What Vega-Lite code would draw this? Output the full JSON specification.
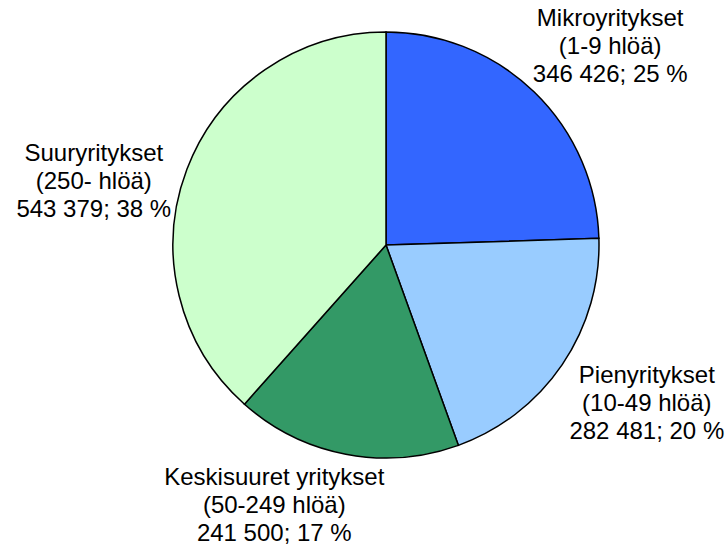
{
  "$schema": "https://vega.github.io/schema/vega-lite/v6.json",
  "autosize": "none",
  "width": 428,
  "height": 428,
  "padding": {"left": 172, "top": 31, "right": 128, "bottom": 87},
  "background": "white",
  "view": {"stroke": null},
  "data": {"values": [
    {"order": 1, "name": "Mikroyritykset", "value": 346426, "label": "Mikroyritykset\n(1-9 hlöä)\n346 426; 25 %"},
    {"order": 2, "name": "Pienyritykset", "value": 282481, "label": "Pienyritykset\n(10-49 hlöä)\n282 481; 20 %"},
    {"order": 3, "name": "Keskisuuret yritykset", "value": 241500, "label": "Keskisuuret yritykset\n(50-249 hlöä)\n241 500; 17 %"},
    {"order": 4, "name": "Suuryritykset", "value": 543379, "label": "Suuryritykset\n(250- hlöä)\n543 379; 38 %"}
  ]},
  "encoding": {
    "theta": {"field": "value", "type": "quantitative", "stack": true},
    "order": {"field": "order", "type": "quantitative"}
  },
  "layer": [
    {
      "mark": {"type": "arc", "radius": 213, "stroke": "black", "strokeWidth": 1.5},
      "encoding": {
        "color": {
          "field": "name", "type": "nominal", "legend": null,
          "scale": {
            "domain": ["Mikroyritykset", "Pienyritykset", "Keskisuuret yritykset", "Suuryritykset"],
            "range": ["#3366FF", "#99CCFF", "#339966", "#CCFFCC"]
          }
        }
      }
    },
    {
      "mark": {"type": "text", "radius": 279, "font": "Liberation Sans", "fontSize": 24, "lineHeight": 28, "lineBreak": "\n", "align": "center", "baseline": "middle", "dx": 30, "dy": -26, "color": "black"},
      "encoding": {
        "text": {"field": "label", "type": "nominal"},
        "opacity": {"condition": {"test": "datum.order <= 2", "value": 1}, "value": 0}
      }
    },
    {
      "mark": {"type": "text", "radius": 242, "font": "Liberation Sans", "fontSize": 24, "lineHeight": 28, "lineBreak": "\n", "align": "center", "baseline": "middle", "dx": -66, "dy": -5, "color": "black"},
      "encoding": {
        "text": {"field": "label", "type": "nominal"},
        "opacity": {"condition": {"test": "datum.order >= 3", "value": 1}, "value": 0}
      }
    }
  ]
}
